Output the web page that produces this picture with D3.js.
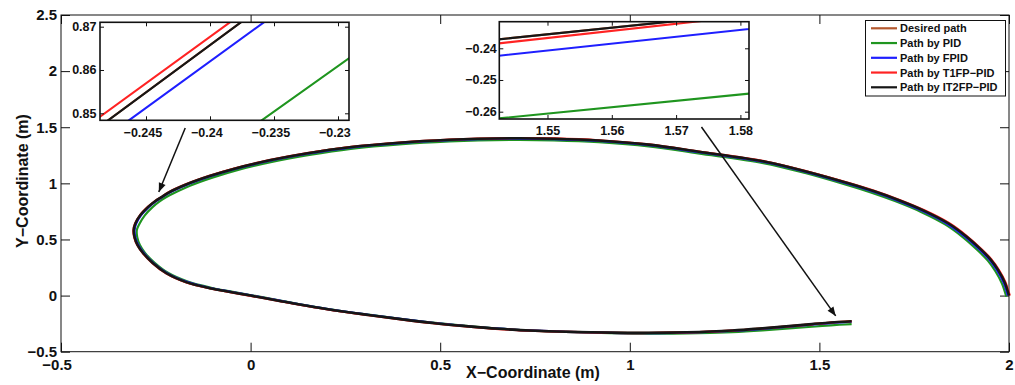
<!DOCTYPE html>
<html>
<head>
<meta charset="utf-8">
<script src="https://cdn.jsdelivr.net/npm/d3@7"></script>
<style>
  html, body { margin: 0; padding: 0; background: #ffffff; }
  svg { display: block; }
</style>
</head>
<body>
<svg id="chart" width="1015" height="385"></svg>
<script>
// ---- trajectory samples, [x, y] in metres ----
const desiredPath = [
  [2.000,0.000],[1.9885,0.1193],[1.9711,0.2288],[1.9511,0.3232],[1.9271,0.4068],[1.8850,0.5333],[1.8395,0.6445],
  [1.7750,0.7576],[1.7079,0.8520],[1.6426,0.9312],[1.5763,1.0006],[1.4674,1.1039],[1.3571,1.1929],
  [1.182,1.282],[1.050,1.345],[0.918,1.382],[0.800,1.398],[0.708,1.402],[0.600,1.397],[0.524,1.388],
  [0.400,1.364],[0.261,1.322],[0.150,1.268],[0.050,1.205],[-0.040,1.133],[-0.108,1.065],[-0.170,0.990],
  [-0.2150,0.920],[-0.23348,0.880],[-0.25180,0.840],[-0.270,0.790],[-0.291,0.715],[-0.304,0.640],[-0.308,0.585],
  [-0.306,0.520],[-0.298,0.450],[-0.283,0.377],[-0.258,0.290],[-0.222,0.199],[-0.170,0.120],[-0.108,0.066],
  [-0.050,0.030],[0.000,0.000],[0.070,-0.043],[0.129,-0.080],[0.200,-0.120],[0.304,-0.170],[0.400,-0.212],
  [0.480,-0.244],[0.560,-0.270],[0.655,-0.296],[0.750,-0.313],[0.831,-0.322],[0.950,-0.330],[1.050,-0.332],
  [1.150,-0.327],[1.270,-0.311],[1.350,-0.292],[1.420,-0.272],[1.480,-0.2545],[1.530,-0.23975],[1.585,-0.22826]
];
const pathPID = [
  [1.993,-0.010],[1.9815,0.1073],[1.9641,0.2168],[1.9441,0.3112],[1.9201,0.3948],[1.8780,0.5213],[1.8325,0.6325],
  [1.7680,0.7456],[1.7009,0.8400],[1.6356,0.9192],[1.5693,0.9886],[1.4624,1.0919],[1.3521,1.1809],
  [1.180,1.267],[1.050,1.330],[0.918,1.367],[0.800,1.383],[0.708,1.387],[0.600,1.382],[0.524,1.373],
  [0.400,1.349],[0.264,1.307],[0.155,1.253],[0.056,1.191],[-0.033,1.120],[-0.099,1.053],[-0.160,0.979],
  [-0.2030,0.912],[-0.22090,0.880],[-0.23995,0.840],[-0.258,0.790],[-0.279,0.715],[-0.293,0.640],[-0.300,0.585],
  [-0.299,0.520],[-0.292,0.450],[-0.278,0.378],[-0.253,0.292],[-0.218,0.203],[-0.166,0.125],[-0.104,0.070],
  [-0.047,0.033],[0.002,0.003],[0.071,-0.040],[0.130,-0.077],[0.200,-0.117],[0.304,-0.167],[0.400,-0.209],
  [0.480,-0.241],[0.560,-0.268],[0.655,-0.295],[0.750,-0.313],[0.831,-0.324],[0.950,-0.334],[1.050,-0.339],
  [1.150,-0.337],[1.270,-0.325],[1.350,-0.310],[1.420,-0.293],[1.480,-0.2775],[1.530,-0.26458],[1.585,-0.25358]
];
const pathFPID = [
  [1.997,0.000],[1.9855,0.1183],[1.9681,0.2268],[1.9481,0.3202],[1.9241,0.4038],[1.8820,0.5298],[1.8365,0.6405],
  [1.7720,0.7536],[1.7049,0.8480],[1.6406,0.9272],[1.5743,0.9966],[1.4664,1.0999],[1.3561,1.1889],
  [1.182,1.278],[1.050,1.341],[0.918,1.378],[0.800,1.394],[0.708,1.398],[0.600,1.393],[0.524,1.384],
  [0.400,1.360],[0.262,1.318],[0.151,1.264],[0.051,1.202],[-0.039,1.130],[-0.106,1.063],[-0.168,0.988],
  [-0.2132,0.919],[-0.23160,0.880],[-0.25024,0.840],[-0.268,0.790],[-0.289,0.715],[-0.302,0.640],[-0.306,0.585],
  [-0.304,0.520],[-0.296,0.450],[-0.281,0.377],[-0.256,0.290],[-0.220,0.200],[-0.168,0.122],[-0.107,0.068],
  [-0.050,0.032],[0.000,0.002],[0.070,-0.041],[0.129,-0.078],[0.200,-0.118],[0.304,-0.168],[0.400,-0.210],
  [0.480,-0.242],[0.560,-0.269],[0.655,-0.295],[0.750,-0.313],[0.831,-0.323],[0.950,-0.332],[1.050,-0.335],
  [1.150,-0.331],[1.270,-0.315],[1.350,-0.297],[1.420,-0.2775],[1.480,-0.2595],[1.530,-0.24504],[1.585,-0.23311]
];
const pathT1FP = [
  [2.002,0.000],[1.9905,0.1198],[1.9731,0.2298],[1.9531,0.3247],[1.9291,0.4088],[1.8870,0.5353],[1.8415,0.6465],
  [1.7770,0.7596],[1.7099,0.8540],[1.6446,0.9332],[1.5783,1.0026],[1.4684,1.1059],[1.3581,1.1949],
  [1.182,1.284],[1.050,1.347],[0.918,1.384],[0.800,1.400],[0.708,1.404],[0.600,1.399],[0.524,1.390],
  [0.400,1.366],[0.261,1.324],[0.149,1.270],[0.049,1.207],[-0.041,1.135],[-0.109,1.067],[-0.171,0.991],
  [-0.2160,0.921],[-0.23426,0.880],[-0.25288,0.840],[-0.271,0.790],[-0.292,0.715],[-0.305,0.640],[-0.309,0.585],
  [-0.307,0.520],[-0.299,0.450],[-0.284,0.377],[-0.259,0.289],[-0.223,0.198],[-0.171,0.119],[-0.109,0.065],
  [-0.051,0.028],[0.000,-0.002],[0.070,-0.045],[0.129,-0.082],[0.200,-0.122],[0.304,-0.172],[0.400,-0.214],
  [0.480,-0.246],[0.560,-0.272],[0.655,-0.298],[0.750,-0.3145],[0.831,-0.3235],[0.950,-0.3315],[1.050,-0.3335],
  [1.150,-0.3285],[1.270,-0.3125],[1.350,-0.2935],[1.420,-0.2735],[1.480,-0.2560],[1.530,-0.24122],[1.585,-0.22890]
];
const pathIT2FP = [
  [2.000,0.000],[1.9885,0.1193],[1.9711,0.2288],[1.9511,0.3232],[1.9271,0.4068],[1.8850,0.5333],[1.8395,0.6445],
  [1.7750,0.7576],[1.7079,0.8520],[1.6426,0.9312],[1.5763,1.0006],[1.4674,1.1039],[1.3571,1.1929],
  [1.182,1.282],[1.050,1.345],[0.918,1.382],[0.800,1.398],[0.708,1.402],[0.600,1.397],[0.524,1.388],
  [0.400,1.364],[0.261,1.322],[0.150,1.268],[0.050,1.205],[-0.040,1.133],[-0.108,1.065],[-0.170,0.990],
  [-0.2150,0.920],[-0.23347,0.880],[-0.25179,0.840],[-0.270,0.790],[-0.291,0.715],[-0.304,0.640],[-0.308,0.585],
  [-0.306,0.520],[-0.298,0.450],[-0.283,0.377],[-0.258,0.290],[-0.222,0.199],[-0.170,0.120],[-0.108,0.066],
  [-0.050,0.030],[0.000,0.000],[0.070,-0.043],[0.129,-0.080],[0.200,-0.120],[0.304,-0.170],[0.400,-0.212],
  [0.480,-0.244],[0.560,-0.270],[0.655,-0.296],[0.750,-0.313],[0.831,-0.322],[0.950,-0.330],[1.050,-0.332],
  [1.150,-0.327],[1.270,-0.311],[1.350,-0.292],[1.420,-0.272],[1.480,-0.2545],[1.530,-0.23977],[1.585,-0.22828]
];

const seriesNames  = ["Desired path", "Path by PID", "Path by FPID", "Path by T1FP\u2212PID", "Path by IT2FP\u2212PID"];
const seriesColors = ["#b4582e", "#1f951f", "#1f1fff", "#ff2323", "#161616"];

// ---- axis ticks ----
const xTicks = [-0.5, 0, 0.5, 1, 1.5, 2];
const yTicks = [-0.5, 0, 0.5, 1, 1.5, 2, 2.5];
const zoomA_xTicks = [-0.245, -0.24, -0.235, -0.23];
const zoomA_yTicks = [0.85, 0.86, 0.87];
const zoomB_xTicks = [1.55, 1.56, 1.57, 1.58];
const zoomB_yTicks = [-0.26, -0.25, -0.24];

// ---- zoom windows: data ranges shown ----
const zoomA_xRange = [-0.248594, -0.229141];
const zoomA_yRange = [0.848383, 0.871016];
const zoomB_xRange = [1.542504, 1.581338];
const zoomB_yRange = [-0.262303, -0.231609];

// ---- pointer arrows in axis units: [fromX, fromY, toX, toY] ----
const arrowA = [-0.1724, 1.493, -0.2421, 0.923];
const arrowB = [1.189, 1.502, 1.543, -0.181];

const allPaths = [desiredPath, pathPID, pathFPID, pathT1FP, pathIT2FP];
const FONT = "'Liberation Sans', Arial, Helvetica, sans-serif";
const INK = "#111";
const fmt = d3.format("~g");

const svg = d3.select("#chart");

// ---- main axes ----
const box = { l: 61, r: 1009, t: 15, b: 351.7 };
const x = d3.scaleLinear([-0.5, 2], [box.l, box.r]);
const y = d3.scaleLinear([-0.5, 2.5], [box.b, box.t]);

function styleAxis(g, size) {
  g.attr("font-family", null).attr("font-size", null);
  g.select(".domain").remove();
  g.selectAll(".tick line").attr("stroke", INK).attr("stroke-width", 1);
  g.selectAll("text")
    .attr("font-family", FONT).attr("font-size", size)
    .attr("font-weight", "bold").attr("fill", INK);
}

// negative labels are centred on their digits (sign hangs to the left)
function shiftNeg(g) {
  g.selectAll(".tick text").attr("dx", d => d < 0 ? "-0.29em" : null);
}

svg.append("rect").attr("x", box.l).attr("y", box.t)
  .attr("width", box.r - box.l).attr("height", box.b - box.t)
  .attr("fill", "#fff");

svg.append("g").attr("transform", `translate(0,${box.b})`)
  .call(d3.axisBottom(x).tickValues(xTicks).tickFormat(fmt).tickSizeInner(-9).tickSizeOuter(0).tickPadding(8))
  .call(g => styleAxis(g, 15)).call(shiftNeg);
svg.append("g").attr("transform", `translate(0,${box.t})`)
  .call(d3.axisTop(x).tickValues(xTicks).tickFormat("").tickSizeInner(-9).tickSizeOuter(0))
  .call(g => styleAxis(g, 15));
svg.append("g").attr("transform", `translate(${box.l},0)`)
  .call(d3.axisLeft(y).tickValues(yTicks).tickFormat(fmt).tickSizeInner(-9).tickSizeOuter(0).tickPadding(4))
  .call(g => styleAxis(g, 15));
svg.append("g").attr("transform", `translate(${box.r},0)`)
  .call(d3.axisRight(y).tickValues(yTicks).tickFormat("").tickSizeInner(-9).tickSizeOuter(0))
  .call(g => styleAxis(g, 15));

svg.append("rect").attr("x", box.l).attr("y", box.t)
  .attr("width", box.r - box.l).attr("height", box.b - box.t)
  .attr("fill", "none").attr("stroke", INK).attr("stroke-width", 1);

// trajectories
const mainLine = d3.line().x(d => x(d[0])).y(d => y(d[1])).curve(d3.curveCatmullRom.alpha(0.5));
svg.append("g").selectAll("path").data(allPaths).join("path")
  .attr("d", mainLine)
  .attr("fill", "none")
  .attr("stroke", (d, i) => seriesColors[i])
  .attr("stroke-width", (d, i) => i === 4 ? 2.6 : 2.2)
  .attr("stroke-linejoin", "round");

// axis titles
svg.append("text").attr("x", 533).attr("y", 378)
  .attr("text-anchor", "middle").attr("font-family", FONT).attr("font-size", 16)
  .attr("font-weight", "bold").attr("fill", INK).text("X\u2212Coordinate (m)");
svg.append("text").attr("transform", "translate(22.5,181) rotate(-90)")
  .attr("text-anchor", "middle").attr("dy", "0.35em").attr("font-family", FONT).attr("font-size", 16)
  .attr("font-weight", "bold").attr("fill", INK).text("Y\u2212Coordinate (m)");

// ---- zoom windows ----
function zoomWindow(id, frame, xr, yr, xt, yt, padY) {
  const sx = d3.scaleLinear(xr, [frame.l, frame.r]);
  const sy = d3.scaleLinear(yr, [frame.b, frame.t]);
  const g = svg.append("g");
  g.append("clipPath").attr("id", id).append("rect")
    .attr("x", frame.l).attr("y", frame.t)
    .attr("width", frame.r - frame.l).attr("height", frame.b - frame.t);
  g.append("rect").attr("x", frame.l).attr("y", frame.t)
    .attr("width", frame.r - frame.l).attr("height", frame.b - frame.t).attr("fill", "#fff");
  const line = d3.line().x(d => sx(d[0])).y(d => sy(d[1]));
  g.append("g").attr("clip-path", `url(#${id})`)
    .selectAll("path").data(allPaths).join("path")
    .attr("d", line).attr("fill", "none")
    .attr("stroke", (d, i) => seriesColors[i]).attr("stroke-width", 2.1);

  g.append("g").attr("transform", `translate(0,${frame.b})`)
    .call(d3.axisBottom(sx).tickValues(xt).tickFormat(fmt).tickSizeInner(-4).tickSizeOuter(0).tickPadding(7.5))
    .call(a => styleAxis(a, 12.5)).call(shiftNeg);
  g.append("g").attr("transform", `translate(0,${frame.t})`)
    .call(d3.axisTop(sx).tickValues(xt).tickFormat("").tickSizeInner(-4).tickSizeOuter(0))
    .call(a => styleAxis(a, 12.5));
  g.append("g").attr("transform", `translate(${frame.l},0)`)
    .call(d3.axisLeft(sy).tickValues(yt).tickFormat(fmt).tickSizeInner(-4).tickSizeOuter(0).tickPadding(padY))
    .call(a => styleAxis(a, 12.5));
  g.append("g").attr("transform", `translate(${frame.r},0)`)
    .call(d3.axisRight(sy).tickValues(yt).tickFormat("").tickSizeInner(-4).tickSizeOuter(0))
    .call(a => styleAxis(a, 12.5));
  g.append("rect").attr("x", frame.l).attr("y", frame.t)
    .attr("width", frame.r - frame.l).attr("height", frame.b - frame.t)
    .attr("fill", "none").attr("stroke", INK).attr("stroke-width", 1.6);
}

zoomWindow("clipA", { l: 100, r: 349, t: 22.3, b: 120.3 }, zoomA_xRange, zoomA_yRange, zoomA_xTicks, zoomA_yTicks, 3.5);
zoomWindow("clipB", { l: 499.3, r: 749, t: 21.7, b: 119 }, zoomB_xRange, zoomB_yRange, zoomB_xTicks, zoomB_yTicks, 2.5);

// ---- pointer arrows ----
svg.append("defs").append("marker")
  .attr("id", "head").attr("viewBox", "-10 -5 10 10")
  .attr("refX", 0).attr("refY", 0)
  .attr("markerWidth", 10).attr("markerHeight", 10)
  .attr("markerUnits", "userSpaceOnUse").attr("orient", "auto")
  .append("path").attr("d", "M0,0 L-9,-3.6 L-9,3.6 Z").attr("fill", INK);

svg.append("g").selectAll("line").data([arrowA, arrowB]).join("line")
  .attr("x1", d => x(d[0])).attr("y1", d => y(d[1]))
  .attr("x2", d => x(d[2])).attr("y2", d => y(d[3]))
  .attr("stroke", INK).attr("stroke-width", 1.5)
  .attr("marker-end", "url(#head)");

// ---- legend ----
const leg = svg.append("g");
leg.append("rect").attr("x", 865.5).attr("y", 20.5).attr("width", 140).attr("height", 75.5)
  .attr("fill", "#fff").attr("stroke", INK).attr("stroke-width", 1);
const rows = leg.selectAll("g.row").data(seriesNames).join("g")
  .attr("class", "row")
  .attr("transform", (d, i) => `translate(0,${28.3 + i * 14.75})`);
rows.append("line").attr("x1", 871).attr("x2", 897)
  .attr("stroke", (d, i) => seriesColors[i]).attr("stroke-width", 2.2);
rows.append("text").attr("x", 900).attr("dy", "0.36em")
  .attr("font-family", FONT).attr("font-size", 11).attr("font-weight", "bold").attr("fill", INK)
  .text(d => d);
</script>
</body>
</html>
